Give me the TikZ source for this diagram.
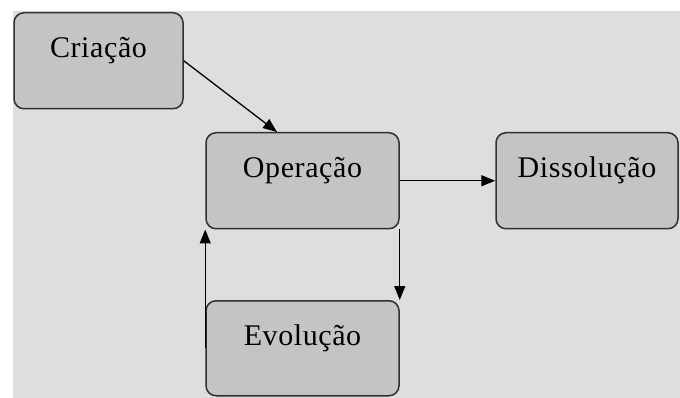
\documentclass[tikz,border=0pt]{standalone}
\usepackage{fontspec}
\setmainfont{Liberation Serif}[LetterSpace=2]
\usetikzlibrary{arrows.meta}
\definecolor{pagebg}{HTML}{DEDEDE}
\definecolor{boxfill}{HTML}{C4C4C4}
\definecolor{boxline}{HTML}{303030}
\begin{document}
\begin{tikzpicture}[x=1pt,y=-1pt,
  stage/.style={draw=boxline, fill=boxfill, line width=1.5pt, rounded corners=10pt,
    inner sep=0pt, text height=45pt, text depth=51pt, anchor=north,
    font=\fontsize{30}{32}\selectfont},
  flow/.style={-{Triangle[length=14pt,width=11pt]}, line width=1.3pt}]
  % page and panel
  \fill[white] (0,0) rectangle (680,398);
  \useasboundingbox (0,0) rectangle (680,398);
  \fill[pagebg] (13,11) rectangle (680,398);
  % life-cycle stages
  \node[stage, minimum width=169pt] (cri) at (98.5,12) {Criação};
  \node[stage, minimum width=193pt] (ope) at (302.5,132) {Operação};
  \node[stage, minimum width=182pt] (dis) at (587,132) {Dissolução};
  \node[stage, minimum width=193pt, text depth=50pt] (evo) at (302.5,300) {Evolução};
  % transitions
  \draw[flow] (cri.east) -- ([xshift=-25.5pt]ope.north);
  \draw[flow] (ope.east) -- (dis.west);
  \draw[flow] (ope.south east) -- (evo.north east);
  \draw[flow] (evo.west) -- (ope.south west);
\end{tikzpicture}
\end{document}
